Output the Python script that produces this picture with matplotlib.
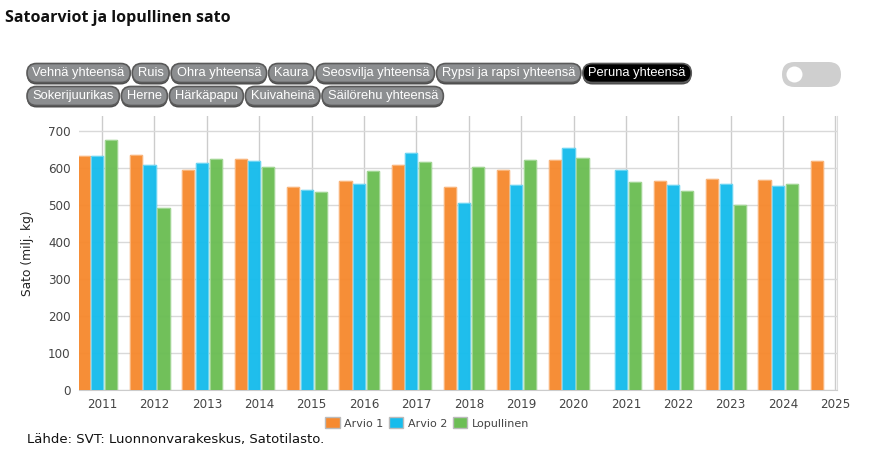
import numpy as np
import matplotlib
matplotlib.use('Agg')
from matplotlib import pyplot as plt
from matplotlib.patches import FancyBboxPatch, Circle, Patch

years = [str(y) for y in range(2011, 2026)]
arvio1 = [633, 636, 594, 626, 549, 565, 609, 548, 595, 623, np.nan, 566, 570, 568, 618]
arvio2 = [633, 608, 614, 620, 541, 558, 640, 506, 554, 654, 595, 555, 558, 552, np.nan]
lopullinen = [676, 493, 624, 603, 536, 591, 616, 603, 622, 627, 562, 537, 501, 557, np.nan]
series_names = ['Arvio 1', 'Arvio 2', 'Lopullinen']
series_colors = ['#F68A30', '#17BCEC', '#6CBE55']

buttons_row1 = ['Vehnä yhteensä', 'Ruis', 'Ohra yhteensä', 'Kaura', 'Seosvilja yhteensä',
                'Rypsi ja rapsi yhteensä', 'Peruna yhteensä']
buttons_row2 = ['Sokerijuurikas', 'Herne', 'Härkäpapu', 'Kuivaheinä', 'Säilörehu yhteensä']
selected = 'Peruna yhteensä'

W, H = 881, 471
fig = plt.figure(figsize=(W / 100, H / 100), dpi=100)

# overlay in pixel coordinates for title, buttons and toggle
bg = fig.add_axes([0, 0, 1, 1])
bg.set_xlim(0, W)
bg.set_ylim(H, 0)
bg.axis('off')

bg.text(5, 18, 'Satoarviot ja lopullinen sato', fontsize=11.5, fontweight='bold',
        family='Open Sans', va='center', ha='left', color='#111111')

renderer = fig.canvas.get_renderer()

def draw_buttons(labels, x0, yc):
    x = x0
    h = 19
    for lab in labels:
        t = bg.text(0, yc, lab, fontsize=9.3, family='Liberation Sans', color='white',
                    va='center', ha='center', zorder=5)
        bb = t.get_window_extent(renderer=renderer)
        w = bb.width + 11
        face = '#000000' if lab == selected else '#8c8e90'
        # shadow under the pill
        shadow = FancyBboxPatch((x, yc - h / 2 + 2), w, h,
                                boxstyle='round,pad=0,rounding_size=9.5',
                                fc='#4a4a4a', ec='none', zorder=2)
        bg.add_patch(shadow)
        btn = FancyBboxPatch((x, yc - h / 2), w, h,
                             boxstyle='round,pad=0,rounding_size=9.5',
                             fc=face, ec='#5a5a5a', lw=1.2, zorder=3)
        bg.add_patch(btn)
        t.set_x(x + w / 2)
        x += w + 2

draw_buttons(buttons_row1, 27, 73)
draw_buttons(buttons_row2, 27, 96)

# toggle switch
tog = FancyBboxPatch((782, 62), 59, 25, boxstyle='round,pad=0,rounding_size=12.5',
                     fc='#cfcfcf', ec='none')
bg.add_patch(tog)
bg.add_patch(Circle((794.5, 74.5), 8, fc='white', ec='none'))

# chart
ax = fig.add_axes([79 / W, 1 - 390 / H, (837 - 79) / W, (390 - 116) / H])
x = np.arange(len(years))
offsets = [-0.353, -0.095, 0.172]
bar_w = 0.232
for vals, off, col, name in zip([arvio1, arvio2, lopullinen], offsets, series_colors, series_names):
    ax.bar(x + off, vals, width=bar_w, color=col, edgecolor=col, linewidth=1.0,
           alpha=0.97, label=name, zorder=3)
    ax.bar(x + off, vals, width=bar_w, color='none', edgecolor='white', linewidth=0.8,
           alpha=0.35, zorder=4)

ax.set_xlim(-0.44, 14.03)
ax.set_ylim(0, 741)
ax.set_yticks(range(0, 701, 100))
ax.set_xticks(x)
ax.set_xticklabels(years)
ax.grid(axis='y', color='#d9d9d9', lw=1, zorder=0)
ax.grid(axis='x', color='#cccccc', lw=1, zorder=0)
ax.tick_params(length=0, labelsize=8.6, colors='#444444', pad=6)
for s in ['top', 'left']:
    ax.spines[s].set_visible(False)
ax.spines['bottom'].set_color('#cccccc')
ax.spines['right'].set_color('#dddddd')
ax.set_ylabel('Sato (milj. kg)', fontsize=8.8, color='#222222', labelpad=10)

handles = [Patch(fc=c, ec='#bbbbbb', lw=1) for c in series_colors]
fig.legend(handles, series_names, loc='center', bbox_to_anchor=(427 / W, 1 - 423 / H),
           ncol=3, frameon=False, fontsize=8, handlelength=1.3, handleheight=1.1,
           handletextpad=0.4, columnspacing=0.5, labelcolor='#444444')

fig.text(27 / W, 1 - 440 / H, 'Lähde: SVT: Luonnonvarakeskus, Satotilasto.', fontsize=9.5,
         color='#111111', va='center', ha='left')

fig.savefig('out.png', dpi=100)
